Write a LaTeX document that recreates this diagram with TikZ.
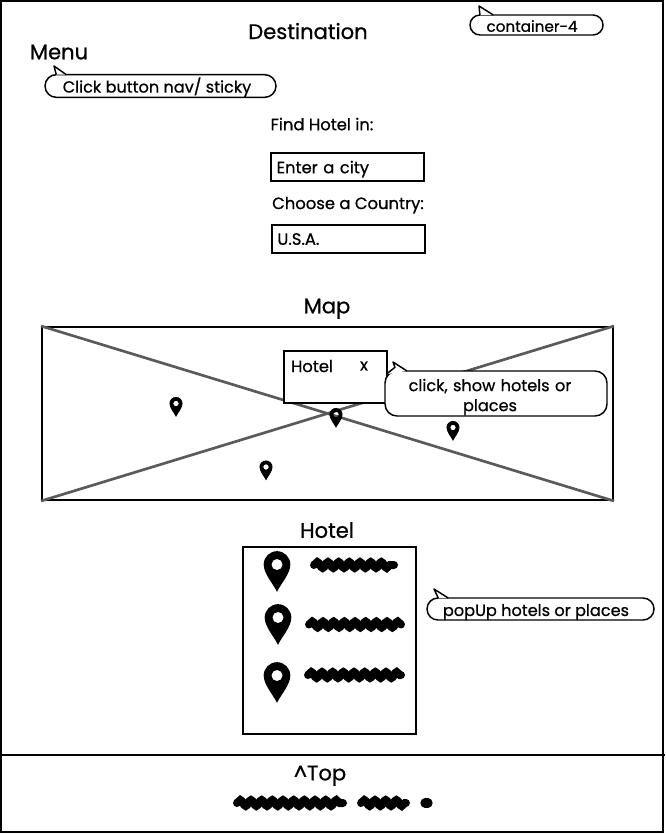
\documentclass[tikz,border=0pt]{standalone}
\usepackage{fontspec}
\setmainfont{Poppins}[FakeBold=0.7]
\usepackage{xcolor}
\usepackage{tikz}
\usetikzlibrary{decorations.pathmorphing}
\usetikzlibrary{shapes,arrows,positioning}
\definecolor{crossgray}{HTML}{5A5A5A}
\tikzstyle{box} = [rectangle, draw, line width=1.5pt, fill=white, inner sep=0pt]
\tikzstyle{inputbox} = [box, minimum width=114.75pt, minimum height=21.5pt, text width=106pt, text depth=0pt, font=\fontsize{12.3}{14}\selectfont]
\tikzstyle{bubble} = [rounded rectangle, draw, line width=1.1pt, fill=white, inner sep=0pt]
\tikzstyle{softbubble} = [rectangle, draw, line width=1.1pt, fill=white, rounded corners=9pt]
\tikzstyle{tail} = [draw, line width=1.1pt, fill=white, line join=round]
\tikzstyle{heading} = [inner sep=0pt, text depth=0pt, font=\fontsize{15.8}{18}\selectfont]
\tikzstyle{field} = [inner sep=0pt, text depth=0pt, font=\fontsize{12.3}{14}\selectfont]
\tikzstyle{note} = [inner sep=0pt, text depth=0pt, font=\fontsize{12.1}{15}\selectfont, text centered]
\tikzstyle{scribble} = [line width=6pt, line cap=round, decorate, decoration={snake, amplitude=2.2pt, segment length=8pt}]
\tikzset{mappin/.pic={
	\fill[black, even odd rule] (-1,0) arc[start angle=180, end angle=0, radius=1] .. controls (1,-0.7) and (0.25,-1.5) .. (0,-2.05) .. controls (-0.25,-1.5) and (-1,-0.7) .. (-1,0) (0.42,0) arc[start angle=0, end angle=360, radius=0.42];
}}
\newcommand{\Mappin}[3]{\path (#1,#2) pic[x=#3pt, y=#3pt] {mappin};}
\begin{document}
\begin{tikzpicture}[x=0.75pt, y=-0.75pt]
	\useasboundingbox (0,0) rectangle (665,834);
	\node[box, minimum width=496.5pt, minimum height=623pt] (frame) at (332,416.5) {};
	\coordinate (footleft) at (0,755);
	\coordinate (footright) at (665,755);
	\draw[line width=1pt] (footleft) -- (footright);

	% top of the page
	\node[heading] (destination) at (308,31) {Destination};
	\node[heading] (menu) at (59,52) {Menu};
	\node[bubble, minimum width=99.75pt, minimum height=15pt] (containernote) at (536.5,25) {};
	\node[note, font=\fontsize{11.4}{14}\selectfont] (containertext) at (532,26) {container-4};
	\draw[tail] ([xshift=8pt,yshift=7.5pt]containernote.west) -- (479,6) -- ([xshift=18pt,yshift=7.5pt]containernote.west);
	\node[bubble, minimum width=173.25pt, minimum height=17pt] (menunote) at (160.5,86) {};
	\node[note] (menutext) at (157,85) {Click button nav/ sticky};
	\draw[tail] ([xshift=9pt,yshift=8.5pt]menunote.west) -- (54,66) -- ([xshift=16.5pt,yshift=8.5pt]menunote.west);

	% search form
	\node[field] (findlabel) at (322,124) {Find Hotel in:};
	\node[inputbox, below of=findlabel, node distance=32.25pt, xshift=19pt] (citybox) {Enter a city};
	\node[field] (countrylabel) at (348,203) {Choose a Country:};
	\node[inputbox, below of=countrylabel, node distance=27pt] (countrybox) {U.S.A.};

	% map
	\node[heading] (maptitle) at (327,306) {Map};
	\node[box, minimum width=428.25pt, minimum height=129.75pt, fill=none] (mapbox) at (327.5,413.5) {};
	\draw[crossgray, line width=2pt] (mapbox.north west) -- (mapbox.south east);
	\draw[crossgray, line width=2pt] (mapbox.south west) -- (mapbox.north east);
	\Mappin{176}{403.5}{4.9}
	\Mappin{336}{414.5}{4.9}
	\Mappin{453}{427.5}{4.9}
	\Mappin{266}{467}{4.9}
	\node[box, minimum width=77.25pt, minimum height=39pt] (popup) at (335.5,376.5) {};
	\node[field] (popuptitle) at (312,366) {Hotel};
	\node[field] (popupclose) at (364,366) {x};
	\node[softbubble, minimum width=166.5pt, minimum height=33.75pt] (clicknote) at (496,393.5) {};
	\node[note, text width=150pt] (clicktext) at (490,385) {click, show hotels or\\places};
	\draw[tail] ([xshift=1.5pt,yshift=-3pt]clicknote.north west) -- ([xshift=8pt,yshift=2.2pt]clicknote.north west) -- (393,362) -- ([xshift=17pt,yshift=-0.5pt]clicknote.north west);

	% hotel list
	\node[heading] (hoteltitle) at (327,530) {Hotel};
	\node[box, minimum width=129.75pt, minimum height=140.25pt] (hotelbox) at (329.5,640.5) {};
	\Mappin{277}{564.5}{10}
	\Mappin{278}{617.5}{10}
	\Mappin{277}{675.5}{10}
	\coordinate (rowa) at (314,565);
	\coordinate (rowaend) at (394,565);
	\coordinate (rowb) at (309,624.5);
	\coordinate (rowbend) at (401,624.5);
	\coordinate (rowc) at (308,675);
	\coordinate (rowcend) at (401,675);
	\draw[scribble] (rowa) -- (rowaend);
	\draw[scribble] (rowb) -- (rowbend);
	\draw[scribble] (rowc) -- (rowcend);
	\node[bubble, minimum width=170.25pt, minimum height=16.5pt] (popupnote) at (540.5,609) {};
	\node[note] (popuptext) at (536,610) {popUp hotels or places};
	\draw[tail] ([xshift=9pt,yshift=8.2pt]popupnote.west) -- (434,589) -- ([xshift=16.5pt,yshift=8.2pt]popupnote.west);

	% footer
	\node[heading] (toplink) at (320,773) {\textasciicircum Top};
	\coordinate (linea) at (237,803);
	\coordinate (lineaend) at (343,803);
	\coordinate (lineb) at (361,803);
	\coordinate (linebend) at (406,803);
	\coordinate (linec) at (425,803);
	\coordinate (linecend) at (428,803);
	\draw[scribble] (linea) -- (lineaend);
	\draw[scribble] (lineb) -- (linebend);
	\draw[line width=7pt, line cap=round] (linec) -- (linecend);
\end{tikzpicture}
\end{document}
